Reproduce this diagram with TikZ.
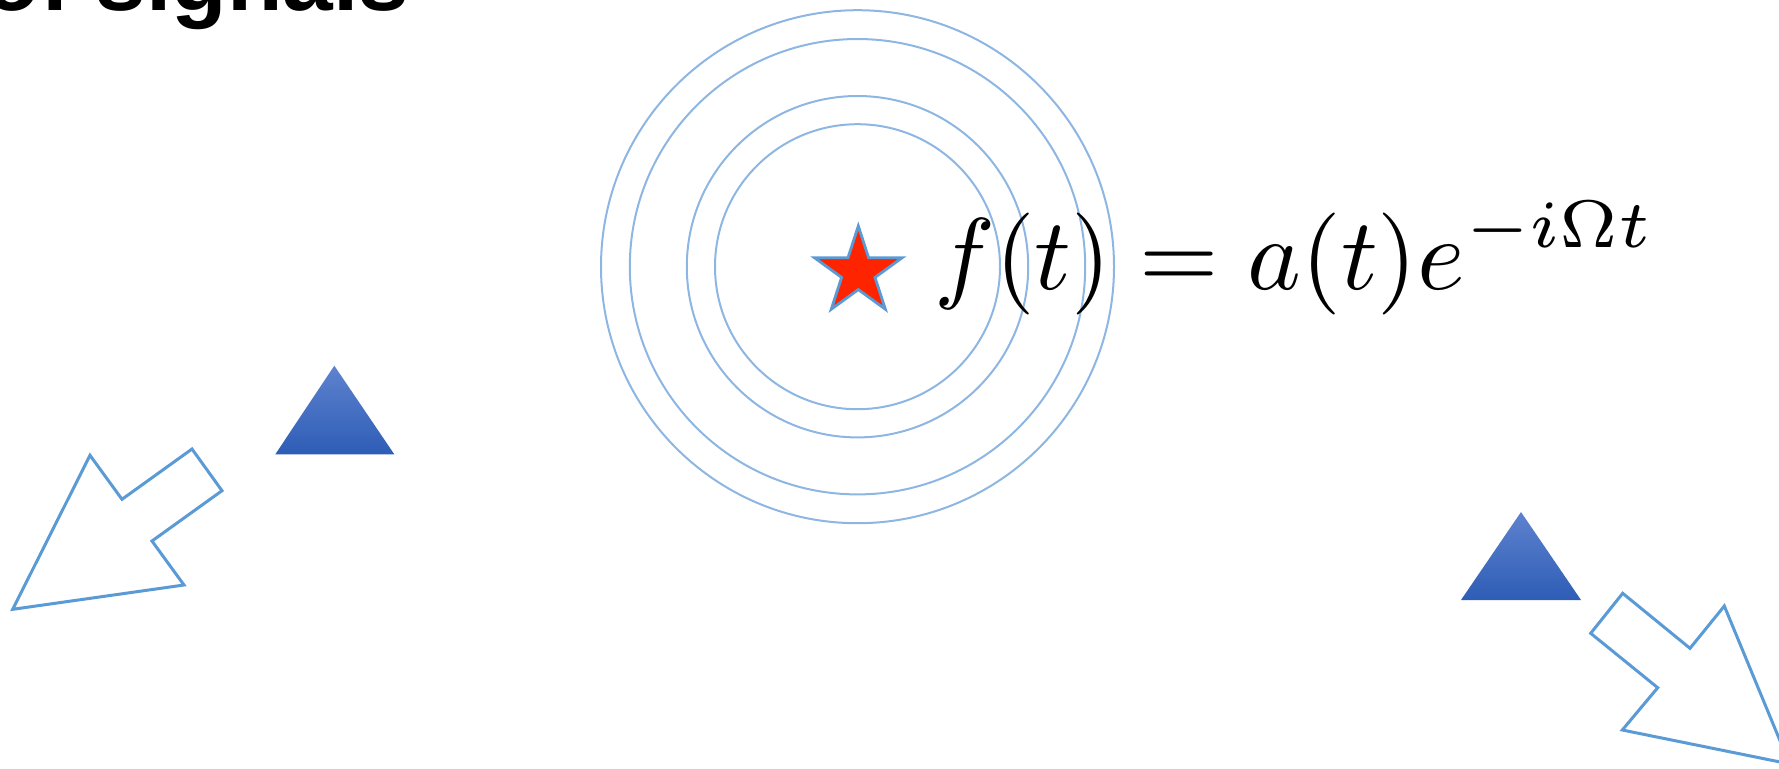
\RequirePackage{fix-cm}
\documentclass[tikz,border=0pt]{standalone}
\usepackage{fontspec}
\usepackage{graphicx}
\newfontfamily\helv{Liberation Sans}
\usetikzlibrary{shapes.geometric}
\DeclareMathSizes{10}{10}{6.6}{5}
\definecolor{ringblue}{RGB}{141,182,226}
\definecolor{lineblue}{RGB}{91,155,213}
\definecolor{starred}{RGB}{255,36,0}
\definecolor{tritop}{RGB}{94,130,206}
\definecolor{tribot}{RGB}{46,93,182}
\tikzset{
  ring/.style={draw=ringblue, line width=1pt},
  bigarrow/.style={draw=lineblue, line width=1.5pt, line join=miter, fill=white},
  tri/.style={top color=tritop, bottom color=tribot, draw=none},
  redstar/.style={star, star points=5, star point ratio=2.618, fill=starred, draw=lineblue, line width=1.4pt, inner sep=0pt, minimum size=46pt},
}
\begin{document}
\begin{tikzpicture}[x=0.5pt, y=-0.5pt]
\useasboundingbox (0,0) rectangle (1779,768);
\clip (0,0) rectangle (1779,768);
% title fragment
\node[anchor=base west, inner sep=0pt, font=\helv\bfseries\fontsize{45.5}{54}\selectfont] (title) at (-16,10) {of signals};
% rings
\coordinate (c) at (857.5,266.7);
\draw[ring] (c) circle[radius=256.5];
\draw[ring] (c) circle[radius=227.7];
\draw[ring] (c) circle[radius=170.7];
\draw[ring] (c) circle[radius=142.5];
% star
\node[redstar] (src) at (858.3,272) {};
% formula
\node[anchor=base west, inner sep=0pt] (eq) at (934,289.3) {\scalebox{5.1}{$\displaystyle f(t)=a(t)e^{-i\Omega t}$}};
% triangles
\path[tri] (334.3,365.7) -- (394.3,454.3) -- (275.3,454.3) -- cycle;
\path[tri] (1521,512) -- (1581,600) -- (1461,600) -- cycle;
% left arrow
\draw[bigarrow] (12.7,609.3) -- (90,455.3) -- (122,499.3) -- (192,449)
  -- (222,490.7) -- (152,541) -- (184,585) -- cycle;
% right arrow
\draw[bigarrow] (1622.7,593.3) -- (1690,648.3) -- (1724.3,606) -- (1789.6,763.9)
  -- (1622.3,730) -- (1657.7,687.7) -- (1590.7,633.3) -- cycle;
\end{tikzpicture}
\end{document}
